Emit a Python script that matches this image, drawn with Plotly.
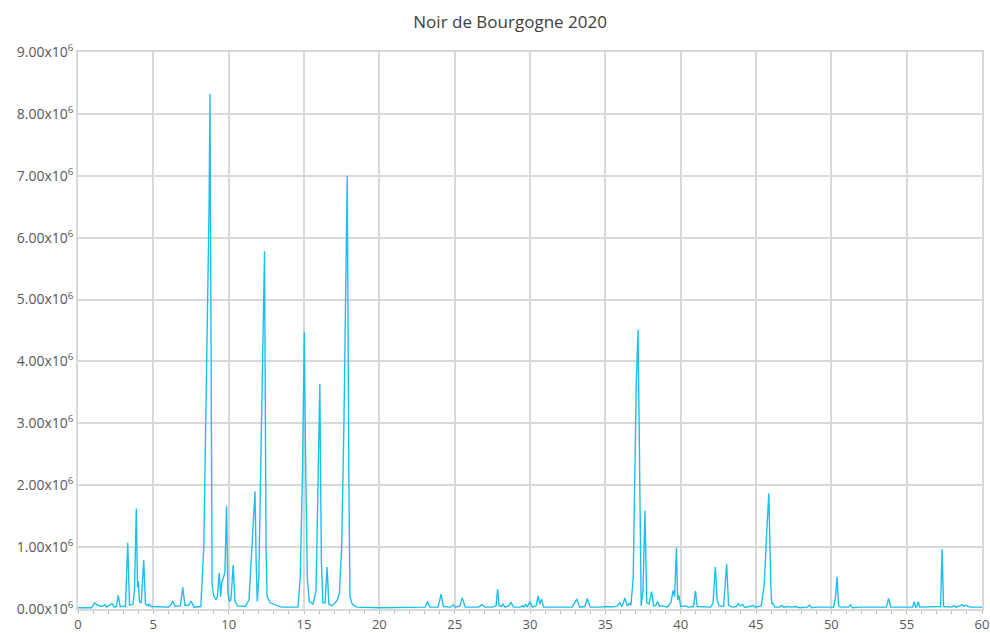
import plotly.graph_objects as go

title_text = "Noir de Bourgogne 2020"

# Retention time (min) of chromatogram vertices
retention_time = [
    0.0, 0.9, 1.1, 1.3, 1.6, 1.8, 1.9, 2.1, 2.25, 2.4, 2.55, 2.67, 2.8, 3.15, 3.3, 3.42,
    3.65, 3.75, 3.87, 3.95, 4.0, 4.08, 4.2, 4.36, 4.48, 4.65, 4.72, 4.85, 5.5, 6.0,
    6.15, 6.28, 6.45, 6.8, 6.95, 7.1, 7.35, 7.5, 7.7, 8.15, 8.35, 8.5, 8.6, 8.7, 8.76,
    8.82, 8.9, 9.0, 9.15, 9.25, 9.37, 9.47, 9.55, 9.65, 9.75, 9.86, 9.95, 10.05, 10.15,
    10.3, 10.42, 10.6, 11.1, 11.35, 11.55, 11.7, 11.75, 11.82, 11.9, 12.0, 12.15, 12.25,
    12.38, 12.48, 12.55, 12.75, 13.0, 13.1, 13.5, 14.6, 14.75, 14.9, 15.02, 15.1, 15.15,
    15.22, 15.35, 15.6, 15.8, 15.9, 16.05, 16.15, 16.25, 16.4, 16.53, 16.65, 16.85,
    17.05, 17.2, 17.35, 17.5, 17.65, 17.75, 17.87, 17.98, 18.05, 18.2, 18.5, 20.0, 22.5,
    23.05, 23.2, 23.35, 23.9, 24.1, 24.25, 24.75, 24.9, 25.05, 25.35, 25.5, 25.7, 26.6,
    26.8, 27.0, 27.5, 27.75, 27.85, 27.95, 28.1, 28.2, 28.35, 28.6, 28.73, 28.9, 29.35,
    29.5, 29.6, 29.7, 29.8, 30.0, 30.15, 30.4, 30.55, 30.65, 30.77, 30.9, 32.8, 33.1,
    33.3, 33.65, 33.8, 34.0, 34.6, 35.2, 35.5, 35.8, 35.95, 36.1, 36.3, 36.45, 36.6,
    36.7, 36.85, 36.95, 37.05, 37.17, 37.28, 37.38, 37.5, 37.63, 37.75, 37.9, 38.07,
    38.2, 38.35, 38.47, 38.6, 38.8, 39.1, 39.35, 39.5, 39.6, 39.72, 39.8, 39.88, 40.0,
    40.35, 40.5, 40.85, 40.98, 41.1, 42.0, 42.15, 42.3, 42.42, 42.55, 42.85, 43.05,
    43.18, 43.4, 43.7, 43.82, 43.95, 44.1, 44.25, 44.6, 44.8, 44.95, 45.35, 45.55, 45.7,
    45.85, 45.98, 46.05, 46.1, 46.25, 46.55, 46.7, 46.85, 47.1, 47.3, 47.6, 47.9, 48.4,
    48.55, 48.7, 49.0, 49.2, 50.15, 50.28, 50.38, 50.48, 50.6, 51.15, 51.27, 51.4,
    51.85, 53.65, 53.8, 53.95, 54.4, 54.9, 55.4, 55.5, 55.6, 55.68, 55.77, 55.87, 56.3,
    56.6, 57.0, 57.25, 57.35, 57.45, 58.0, 58.1, 58.3, 58.7, 58.8, 58.9, 59.2, 60.0,
]

# Intensity in millions of counts at each vertex
intensity_millions = [
    0.02, 0.02, 0.10, 0.06, 0.04, 0.07, 0.03, 0.06, 0.09, 0.03, 0.04, 0.22, 0.04, 0.04, 1.07, 0.06,
    0.08, 0.30, 1.62, 0.35, 0.45, 0.12, 0.10, 0.79, 0.08, 0.05, 0.08, 0.04, 0.03, 0.03,
    0.06, 0.13, 0.04, 0.05, 0.35, 0.06, 0.06, 0.13, 0.03, 0.04, 1.0, 3.2, 4.5, 6.5, 8.32,
    5.0, 0.4, 0.22, 0.15, 0.2, 0.58, 0.2, 0.45, 0.5, 0.6, 1.66, 0.25, 0.12, 0.15,
    0.71, 0.12, 0.05, 0.04, 0.15, 1.0, 1.85, 1.9, 0.8, 0.12, 0.5, 2.5, 4.0,
    5.78, 1.0, 0.2, 0.1, 0.08, 0.06, 0.03, 0.03, 0.5, 2.2, 4.48, 2.5, 1.2,
    0.5, 0.12, 0.08, 0.3, 1.5, 3.64, 0.8, 0.1, 0.1, 0.68, 0.08, 0.05,
    0.1, 0.14, 0.25, 1.0, 3.0, 5.0, 7.0, 2.0, 0.2, 0.08, 0.03, 0.02, 0.02,
    0.03, 0.12, 0.03, 0.03, 0.24, 0.04, 0.03, 0.07, 0.03, 0.05, 0.18, 0.03, 0.03,
    0.07, 0.03, 0.03, 0.05, 0.32, 0.05, 0.04, 0.08, 0.03, 0.05, 0.11, 0.03, 0.03,
    0.05, 0.03, 0.08, 0.03, 0.12, 0.03, 0.05, 0.21, 0.08, 0.16, 0.03, 0.03, 0.16,
    0.03, 0.04, 0.17, 0.03, 0.03, 0.04, 0.03, 0.05, 0.10, 0.04, 0.18, 0.05, 0.09,
    0.06, 0.5, 1.8, 3.6, 4.51, 1.5, 0.05, 0.3, 1.59, 0.1, 0.08, 0.28,
    0.05, 0.06, 0.12, 0.04, 0.05, 0.03, 0.1, 0.3, 0.2, 0.99, 0.15, 0.22, 0.04,
    0.05, 0.03, 0.04, 0.29, 0.04, 0.03, 0.1, 0.68, 0.15, 0.05, 0.04, 0.73,
    0.06, 0.03, 0.04, 0.09, 0.05, 0.07, 0.03, 0.04, 0.06, 0.03, 0.05, 0.4, 1.2,
    1.87, 0.4, 0.08, 0.1, 0.03, 0.03, 0.06, 0.03, 0.04, 0.03, 0.04, 0.02, 0.03,
    0.06, 0.02, 0.03, 0.03, 0.03, 0.2, 0.52, 0.05, 0.03, 0.03, 0.07, 0.02,
    0.03, 0.03, 0.17, 0.03, 0.03, 0.04, 0.03, 0.12, 0.03, 0.04, 0.12, 0.03, 0.03,
    0.04, 0.03, 0.04, 0.97, 0.04, 0.03, 0.05, 0.03, 0.07, 0.04, 0.06, 0.03, 0.03,
]

intensity = [v * 1e6 for v in intensity_millions]

y_tick_values = [0, 1e6, 2e6, 3e6, 4e6, 5e6, 6e6, 7e6, 8e6, 9e6]
y_tick_labels = ["0.00x10<sup>6</sup>", "1.00x10<sup>6</sup>", "2.00x10<sup>6</sup>",
                 "3.00x10<sup>6</sup>", "4.00x10<sup>6</sup>", "5.00x10<sup>6</sup>",
                 "6.00x10<sup>6</sup>", "7.00x10<sup>6</sup>", "8.00x10<sup>6</sup>",
                 "9.00x10<sup>6</sup>"]
x_tick_values = [0, 5, 10, 15, 20, 25, 30, 35, 40, 45, 50, 55, 60]

fig = go.Figure()
fig.add_trace(go.Scatter(
    x=retention_time, y=intensity, mode="lines",
    line=dict(color="#1cc0ee", width=1.4),
    showlegend=False,
))

grid = "#d9d9d9"
fig.update_layout(
    width=990, height=633,
    paper_bgcolor="white", plot_bgcolor="white",
    margin=dict(l=78, r=8, t=52, b=24, autoexpand=False),
    title=dict(text=title_text, x=0.478, xref="paper", xanchor="center",
               y=1 - 22 / 633, yanchor="middle",
               font=dict(family="Open Sans, Noto Sans, sans-serif", size=17, color="#404040")),
    font=dict(family="Open Sans, Noto Sans, sans-serif", size=14, color="#595959"),
)
fig.update_xaxes(
    range=[0, 60], tickvals=x_tick_values, ticktext=[str(v) for v in x_tick_values],
    showgrid=True, gridcolor=grid, gridwidth=1.5,
    showline=True, linecolor=grid, linewidth=1.5, mirror=True,
    ticks="outside", ticklen=3, tickcolor="#bfbfbf",
    minor=dict(dtick=1, ticks="outside", ticklen=3, tickcolor="#bfbfbf", showgrid=False),
    zeroline=False, automargin=False, ticklabeloverflow="allow",
    tickfont=dict(size=13, color="#595959"),
)
fig.update_yaxes(
    range=[0, 9e6], tickvals=y_tick_values, ticktext=y_tick_labels,
    showgrid=True, gridcolor=grid, gridwidth=1.5,
    showline=True, linecolor=grid, linewidth=1.5, mirror=True,
    ticks="", zeroline=False, automargin=False, tickfont=dict(size=14, color="#595959"),
)

# remove the default page margin so the figure fills the 990x633 window exactly
fig.write_html(
    "out.html",
    config={"displayModeBar": False},
    post_script="document.body.style.margin='0';document.body.style.overflow='hidden';",
)
